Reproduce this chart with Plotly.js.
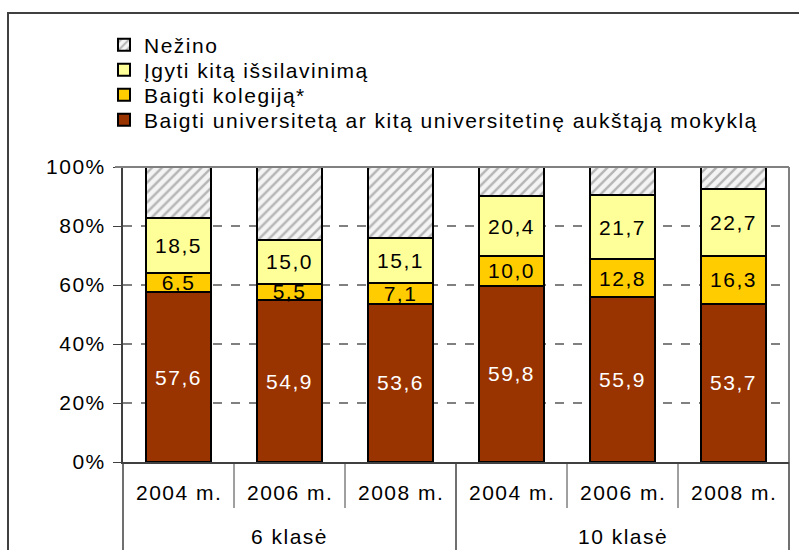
<!DOCTYPE html>
<html>
<head>
<meta charset="utf-8">
<script src="https://cdn.plot.ly/plotly-3.0.1.min.js"></script>
<style>
html,body{margin:0;padding:0;background:#fff;}
#chart{width:799px;height:550px;}
text{letter-spacing:1.5px;}
</style>
</head>
<body>
<div id="chart"></div>
<script>
// Data
const groups = ["6 klasė", "6 klasė", "6 klasė", "10 klasė", "10 klasė", "10 klasė"];
const years = ["2004 m.", "2006 m.", "2008 m.", "2004 m.", "2006 m.", "2008 m."];
const universitetas = [57.6, 54.9, 53.6, 59.8, 55.9, 53.7];
const kolegija = [6.5, 5.5, 7.1, 10.0, 12.8, 16.3];
const kitas = [18.5, 15.0, 15.1, 20.4, 21.7, 22.7];
const nezino = [17.4, 24.6, 24.2, 9.8, 9.6, 7.3];

const yTickVals = [0, 20, 40, 60, 80, 100];
const yTickText = ["0%", "20%", "40%", "60%", "80%", "100%"];

const seriesNames = [
  "Baigti universitetą ar kitą universitetinę aukštąją mokyklą",
  "Baigti kolegiją*",
  "Įgyti kitą išsilavinimą",
  "Nežino"
];

const FONT = "Liberation Sans, Arial, sans-serif";
const FS = 21;
const x = [groups, years];
const line = {color: "#000", width: 2};

function bar(name, vals, color, textColor, showText, legendId, pattern) {
  const t = {
    type: "bar",
    name: name,
    x: x,
    y: vals,
    legend: legendId,
    marker: {color: color, line: line},
    textposition: showText ? "inside" : "none",
    texttemplate: showText ? "%{y:.1f}" : "",
    insidetextanchor: "middle",
    textangle: 0,
    constraintext: "none",
    textfont: {family: FONT, size: FS, color: textColor},
    hoverinfo: "skip"
  };
  if (pattern) t.marker.pattern = pattern;
  return t;
}

const data = [
  bar(seriesNames[0], universitetas, "#993300", "#ffffff", true, "legend4"),
  bar(seriesNames[1], kolegija, "#FFCC00", "#000000", true, "legend3"),
  bar(seriesNames[2], kitas, "#FFFF99", "#000000", true, "legend2"),
  bar(seriesNames[3], nezino, "#e6e6e6", "#000000", false, "legend",
      {shape: "/", fgcolor: "#b5b5b5", bgcolor: "#f4f4f4", size: 7, solidity: 0.35})
];

// plot area geometry helpers (paper coords)
const L = 123, R = 10, T = 167, B = 88, W = 799, H = 550;
const pw = W - L - R, ph = H - T - B;
const px = v => (v - L) / pw;
const py = v => (H - B - v) / ph;

const shapes = [
  // outer frame
  {type: "rect", xref: "paper", yref: "paper", x0: px(8), x1: px(830), y0: py(600), y1: py(13),
   line: {color: "#404040", width: 2}, layer: "below"},
  // plot area border (top/right)
  {type: "line", xref: "paper", yref: "paper", x0: px(115), x1: 1, y0: 1, y1: 1,
   line: {color: "#808080", width: 2}},
  {type: "line", xref: "paper", yref: "paper", x0: 1, x1: 1, y0: 0, y1: 1,
   line: {color: "#808080", width: 2}}
];

// category axis dividers and labels
const n = years.length;
const annotations = [];
for (let i = 0; i <= n; i++) {
  const outer = (i === 0 || i === n || groups[i] !== groups[i - 1]);
  shapes.push({type: "line", xref: "paper", yref: "paper", x0: i / n, x1: i / n,
    y0: outer ? py(560) : py(508), y1: 0,
    line: {color: "#404040", width: outer ? 1.5 : 1}});
}
years.forEach((yr, i) => {
  annotations.push({xref: "paper", yref: "paper", x: (i + 0.5) / n, y: py(493),
    text: yr, showarrow: false, xanchor: "center", yanchor: "middle",
    font: {family: FONT, size: FS, color: "#000"}});
});
const seen = [];
groups.forEach((g, i) => {
  if (seen.indexOf(g) >= 0) return;
  seen.push(g);
  const first = groups.indexOf(g), last = groups.lastIndexOf(g);
  annotations.push({xref: "paper", yref: "paper", x: (first + last + 1) / 2 / n, y: py(536),
    text: g, showarrow: false, xanchor: "center", yanchor: "middle",
    font: {family: FONT, size: FS, color: "#000"}});
});

function leg(yc) {
  return {
    x: px(115), y: py(yc), xanchor: "left", yanchor: "middle",
    font: {family: FONT, size: FS, color: "#000"},
    bgcolor: "rgba(0,0,0,0)", borderwidth: 0,
    itemwidth: 30, indentation: -11
  };
}

const layout = {
  width: W, height: H,
  margin: {l: L, r: R, t: T, b: B, pad: 0},
  barmode: "stack",
  bargap: 0.41,
  separators: ", ",
  paper_bgcolor: "#ffffff",
  plot_bgcolor: "#ffffff",
  font: {family: FONT, size: FS, color: "#000"},
  showlegend: true,
  legend: leg(45),
  legend2: leg(70),
  legend3: leg(95),
  legend4: leg(120),
  xaxis: {
    type: "multicategory",
    showline: true, linecolor: "#404040", linewidth: 2,
    ticks: "", showgrid: false, showticklabels: false,
    showdividers: false,
    fixedrange: true
  },
  yaxis: {
    range: [0, 100],
    tickmode: "array",
    tickvals: yTickVals,
    ticktext: yTickText,
    showline: true, linecolor: "#404040", linewidth: 2,
    ticks: "outside", ticklen: 8, tickcolor: "#404040", tickwidth: 1,
    showgrid: true, gridcolor: "#808080", gridwidth: 1.5, griddash: "dash",
    zeroline: false,
    ticklabelstandoff: 3,
    tickfont: {family: FONT, size: FS, color: "#000"},
    fixedrange: true
  },
  shapes: shapes,
  annotations: annotations
};

Plotly.newPlot("chart", data, layout, {displayModeBar: false, staticPlot: true});
</script>
</body>
</html>
